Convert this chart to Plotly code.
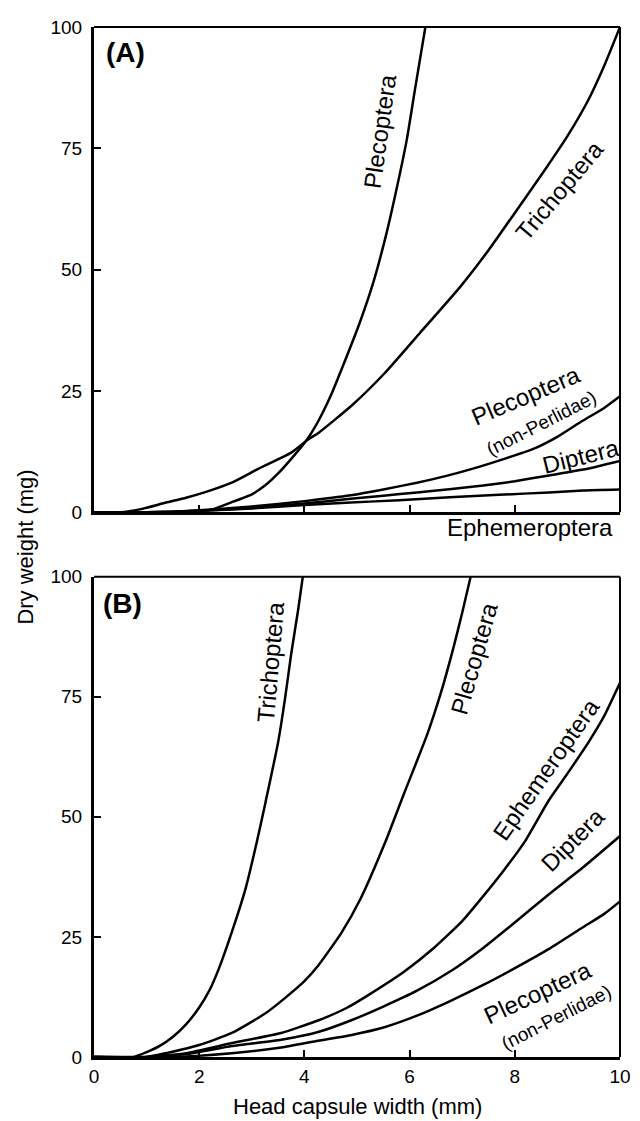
import plotly.graph_objects as go

# ---------------- Data ----------------
# Panel A
a_pleco_x = [0, 1.6, 2.0, 2.25, 2.6, 3.0, 3.25, 3.5, 3.75, 4.05, 4.25, 4.5, 4.8, 5.05, 5.3, 5.55, 5.75, 5.95, 6.1, 6.3]
a_pleco_y = [0, 0, 0.2, 0.6, 2.0, 3.7, 5.5, 8.0, 11.0, 15.0, 18.5, 24.0, 32.0, 39.0, 47.0, 57.0, 66.5, 77.0, 87.0, 100]

a_tricho_x = [0, 0.5, 0.87, 1.37, 1.75, 2.13, 2.62, 3.13, 3.75, 4.07, 4.26, 4.9, 5.52, 6.2, 6.95, 7.5, 8.02, 8.6, 9.0, 9.4, 9.7, 10]
a_tricho_y = [0, 0, 0.6, 2.0, 3.0, 4.2, 6.1, 9.0, 12.3, 15.0, 16.3, 22.0, 28.6, 37.0, 46.3, 54.0, 62.0, 71.0, 77.5, 85.0, 92.0, 100]

a_nonperl_x = [0, 1.0, 1.5, 2.0, 3.0, 4.0, 4.88, 5.5, 6.14, 6.7, 7.27, 7.8, 8.34, 8.8, 9.28, 9.7, 10]
a_nonperl_y = [0, 0, 0.1, 0.4, 1.2, 2.3, 3.5, 4.7, 6.1, 7.5, 9.2, 11.0, 13.0, 15.5, 18.8, 21.5, 23.9]

a_dipt_x = [0, 1.0, 2.0, 3.0, 4.0, 4.88, 5.5, 6.14, 6.8, 7.4, 8.0, 8.65, 9.3, 10]
a_dipt_y = [0, 0, 0.3, 0.9, 1.8, 2.8, 3.4, 4.1, 4.8, 5.5, 6.4, 7.6, 8.8, 10.6]

a_ephem_x = [0, 1.0, 2.0, 3.0, 4.0, 4.88, 5.8, 6.76, 7.7, 8.65, 9.3, 10]
a_ephem_y = [0, 0, 0.3, 0.8, 1.5, 2.0, 2.5, 3.1, 3.6, 4.1, 4.5, 4.7]

# Panel B
b_tricho_x = [0, 0.6, 0.75, 1.0, 1.25, 1.49, 1.75, 2.0, 2.2, 2.37, 2.62, 2.88, 3.09, 3.26, 3.5, 3.63, 3.75, 3.88, 3.97]
b_tricho_y = [0, 0, 0, 1.0, 2.3, 4.1, 6.8, 10.3, 14.0, 18.3, 26.0, 35.0, 44.5, 53.0, 65.5, 74.5, 84.0, 93.0, 100]

b_pleco_x = [0, 1.0, 1.37, 2.0, 2.62, 3.26, 3.6, 4.0, 4.26, 4.7, 5.07, 5.54, 5.9, 6.33, 6.6, 6.84, 7.0, 7.16]
b_pleco_y = [0, 0, 0.8, 2.5, 5.0, 9.1, 12.0, 15.8, 19.0, 25.8, 33.0, 44.8, 55.0, 67.0, 76.0, 85.5, 92.5, 100]

b_ephem_x = [0, 1.0, 1.75, 2.62, 3.56, 4.26, 4.8, 5.26, 5.9, 6.46, 7.0, 7.4, 7.8, 8.2, 8.65, 9.0, 9.4, 9.7, 10]
b_ephem_y = [0, 0, 0.8, 2.9, 5.0, 7.6, 10.2, 13.2, 17.8, 22.7, 28.3, 33.5, 39.0, 45.0, 53.5, 59.0, 65.5, 71.0, 77.9]

b_dipt_x = [0, 1.0, 1.75, 2.62, 3.56, 4.26, 4.88, 5.5, 6.14, 6.8, 7.4, 8.0, 8.65, 9.3, 10]
b_dipt_y = [0, 0, 0.6, 2.3, 3.6, 5.2, 7.6, 10.5, 13.8, 18.0, 22.7, 28.0, 33.9, 39.5, 46.0]

b_nonperl_x = [0, 1.5, 2.62, 3.56, 4.26, 4.9, 5.52, 6.14, 6.76, 7.4, 8.02, 8.65, 9.28, 9.7, 10]
b_nonperl_y = [0, 0, 0.8, 2.0, 3.4, 4.6, 6.2, 8.6, 11.6, 15.0, 18.6, 22.5, 26.9, 29.8, 32.4]

x_ticks = [0, 2, 4, 6, 8, 10]
y_ticks = [0, 25, 50, 75, 100]

# ---------------- Figure ----------------
FONT = "Liberation Sans, Arial, Helvetica, sans-serif"
LINE = dict(color="black", width=2.5)

fig = go.Figure()

panel_a = [(a_pleco_x, a_pleco_y), (a_tricho_x, a_tricho_y), (a_nonperl_x, a_nonperl_y),
           (a_dipt_x, a_dipt_y), (a_ephem_x, a_ephem_y)]
panel_b = [(b_tricho_x, b_tricho_y), (b_pleco_x, b_pleco_y), (b_ephem_x, b_ephem_y),
           (b_dipt_x, b_dipt_y), (b_nonperl_x, b_nonperl_y)]

for xs, ys in panel_a:
    fig.add_trace(go.Scatter(x=xs, y=ys, mode="lines", line=dict(LINE, shape="spline", smoothing=0.5),
                             xaxis="x", yaxis="y", showlegend=False, hoverinfo="skip"))
for xs, ys in panel_b:
    fig.add_trace(go.Scatter(x=xs, y=ys, mode="lines", line=dict(LINE, shape="spline", smoothing=0.5),
                             xaxis="x2", yaxis="y2", showlegend=False, hoverinfo="skip"))

# the page body has an 8px default margin; size the figure to fit the 640x1121 window
BODY = 8
W, H = 640 - BODY, 1121 - BODY - 1
ml, mr, mt, mb = 94 - BODY, 15, 17 - BODY, 63
plot_h = H - mt - mb
bottom_px = 1057  # window y of panel B x-axis
dom_a = [(bottom_px - 507) / plot_h, 1.0]
dom_b = [0.0, (bottom_px - 572) / plot_h]

axis_common = dict(range=[0, 10], tickvals=x_ticks, showgrid=False, zeroline=False,
                   showline=True, linecolor="black", linewidth=3, ticks="inside",
                   ticklen=7, tickwidth=2, tickcolor="black",
                   tickfont=dict(family=FONT, size=19, color="black"))
yaxis_common = dict(range=[0, 100], tickvals=y_ticks, showgrid=False, zeroline=False,
                    showline=True, linecolor="black", linewidth=3, ticks="inside",
                    ticklen=7, tickwidth=2, tickcolor="black", ticklabelstandoff=5,
                    tickfont=dict(family=FONT, size=19, color="black"))

fig.update_layout(
    width=W, height=H,
    margin=dict(l=ml, r=mr, t=mt, b=mb, pad=0),
    paper_bgcolor="white", plot_bgcolor="white",
    font=dict(family=FONT, color="black"),
    xaxis=dict(axis_common, domain=[0, 1], anchor="y", showticklabels=False),
    yaxis=dict(yaxis_common, domain=dom_a, anchor="x"),
    xaxis2=dict(axis_common, domain=[0, 1], anchor="y2", showticklabels=True),
    yaxis2=dict(yaxis_common, domain=dom_b, anchor="x2"),
)

# thin top/right borders
for xr, yr in [("x domain", "y domain"), ("x2 domain", "y2 domain")]:
    fig.add_shape(type="line", xref=xr, yref=yr, x0=0, x1=1, y0=1, y1=1, line=dict(color="black", width=2))
    fig.add_shape(type="line", xref=xr, yref=yr, x0=1, x1=1, y0=0, y1=1, line=dict(color="black", width=2))

def lab(text, x, y, angle, xref="x", yref="y", size=24, xanchor="center", bold=False):
    t = f"<b>{text}</b>" if bold else text
    fig.add_annotation(text=t, x=x, y=y, xref=xref, yref=yref, textangle=angle, showarrow=False,
                       xanchor=xanchor, yanchor="middle",
                       font=dict(family=FONT, size=size, color="black"))

# panel A labels
lab("(A)", 0.6, 94.7, 0, size=28, bold=True)
lab("Plecoptera", 5.44, 78.4, -82)
lab("Trichoptera", 8.85, 66.3, -50)
lab("Plecoptera", 8.21, 24.1, -23)
lab("(non-Perlidae)", 8.49, 18.4, -27, size=19)
lab("Diptera", 9.25, 11.4, -14)
lab("Ephemeroptera", 0.99, -0.031, 0, xref="x domain", yref="y domain", xanchor="right")

# panel B labels
lab("(B)", 0.55, 94.4, 0, xref="x2", yref="y2", size=28, bold=True)
lab("Trichoptera", 3.35, 82.2, -85, xref="x2", yref="y2")
lab("Plecoptera", 7.23, 82.9, -74, xref="x2", yref="y2")
lab("Ephemeroptera", 8.59, 59.9, -55, xref="x2", yref="y2")
lab("Diptera", 9.11, 45.2, -45, xref="x2", yref="y2")
lab("Plecoptera", 8.44, 13.4, -25, xref="x2", yref="y2")
lab("(non-Perlidae)", 8.78, 8.3, -27, xref="x2", yref="y2", size=19)

# axis titles
fig.add_annotation(text="Dry weight (mg)", xref="paper", yref="paper",
                   x=(25 - 94) / (W - ml - mr), y=(bottom_px - 542) / plot_h, textangle=-90,
                   showarrow=False, xanchor="center", yanchor="middle",
                   font=dict(family=FONT, size=22, color="black"))
fig.add_annotation(text="Head capsule width (mm)", xref="paper", yref="paper",
                   x=0.5, y=(bottom_px - 1107) / plot_h,
                   showarrow=False, xanchor="center", yanchor="middle",
                   font=dict(family=FONT, size=22, color="black"))

fig.write_html("out.html")
